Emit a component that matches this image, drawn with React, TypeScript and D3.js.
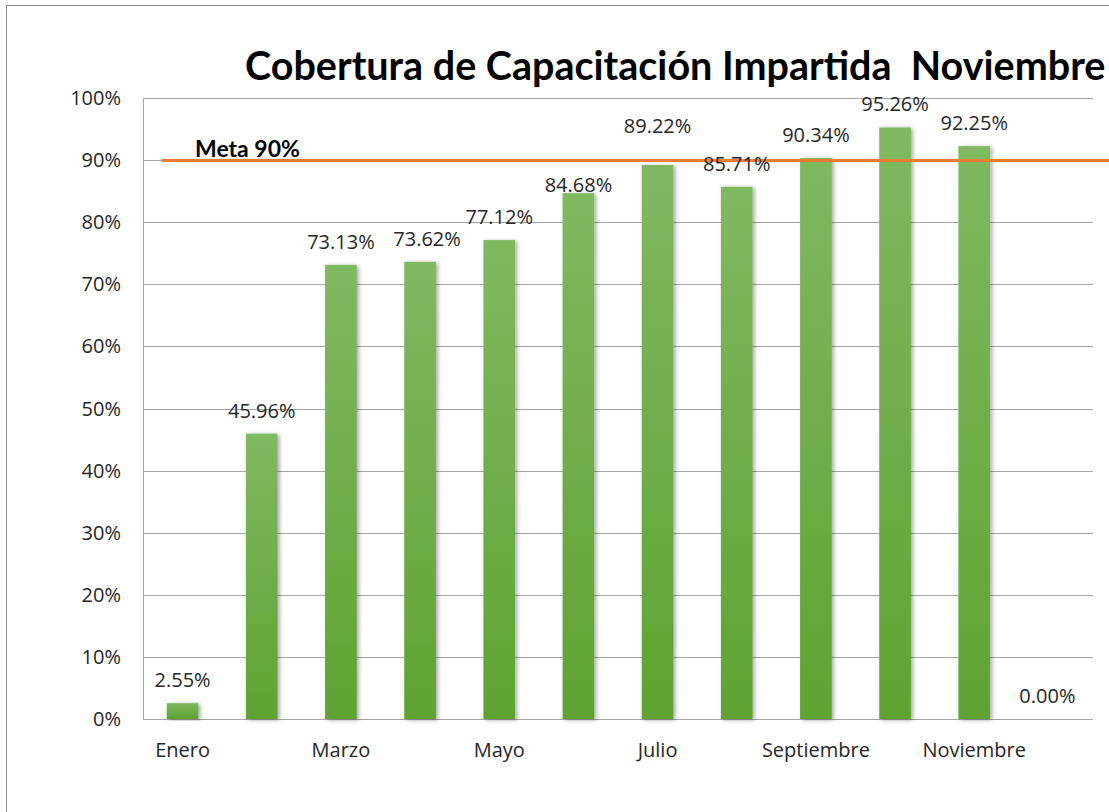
import React from "react";
import * as d3 from "d3";

// chart data
const months = [
  "Enero", "Febrero", "Marzo", "Abril", "Mayo", "Junio",
  "Julio", "Agosto", "Septiembre", "Octubre", "Noviembre", "Diciembre",
];
const coverage = [2.55, 45.96, 73.13, 73.62, 77.12, 84.68, 89.22, 85.71, 90.34, 95.26, 92.25, 0.0];
const meta = 90;
const yTicks = [0, 10, 20, 30, 40, 50, 60, 70, 80, 90, 100];
// manual label nudges (dx, dy) like the moved labels in the original
const labelDx = [0, 0, 0, 7, 0, 0, 0, 0, 0, 0, 0, -6];
const labelDy = [0, 0, 0, 0, 0, 15, -16, 0, 0, 0, 0, 0];

const W = 1109;
const H = 812;
const margin = { top: 98, right: 16, bottom: 93, left: 143 };
const FONT = "'Open Sans', Lato, sans-serif";
const TITLE_FONT = "Lato, 'Open Sans', sans-serif";

export default function App() {
  const innerW = W - margin.left - margin.right;
  const innerH = H - margin.top - margin.bottom;

  const x = d3.scaleBand().domain(months).range([0, innerW]).paddingInner(0.6).paddingOuter(0.3);
  const y = d3.scaleLinear().domain([0, 100]).range([innerH, 0]);

  return (
    <svg width={W} height={H} style={{ position: "fixed", left: 0, top: 0, background: "#fff" }}>
      <defs>
        <linearGradient id="barFill" x1="0" y1="0" x2="0" y2="1">
          <stop offset="0%" stopColor="#7fb961" />
          <stop offset="100%" stopColor="#5fa332" />
        </linearGradient>
        <filter id="shadow" x="-30%" y="-10%" width="160%" height="120%">
          <feDropShadow dx="2" dy="1" stdDeviation="2" floodColor="#000" floodOpacity="0.35" />
        </filter>
      </defs>

      {/* chart border */}
      <rect x={6.5} y={5.5} width={W + 20} height={H + 20} fill="none" stroke="#8c8c8c" strokeWidth={1} />

      <text x={245} y={80} fontFamily={TITLE_FONT} fontWeight="bold" fontSize={39.5} fill="#000">
        Cobertura de Capacitación Impartida{"\u00a0\u00a0"}Noviembre
      </text>

      <g transform={`translate(${margin.left},${margin.top})`}>
        {/* grid */}
        {yTicks.map((t) => (
          <g key={t}>
            <line x1={0} x2={innerW} y1={Math.round(y(t)) + 0.5} y2={Math.round(y(t)) + 0.5} stroke="#a6a6a6" strokeWidth={1} />
            <text x={-22} y={y(t) + 7} textAnchor="end" fontFamily={FONT} fontSize={20} fill="#262626">
              {t}%
            </text>
          </g>
        ))}
        <line x1={0.5} x2={0.5} y1={0} y2={innerH} stroke="#a6a6a6" strokeWidth={1} />

        {/* bars */}
        {months.map((m, i) => (
          <rect
            key={m}
            x={x(m)}
            y={y(coverage[i])}
            width={x.bandwidth()}
            height={innerH - y(coverage[i])}
            fill="url(#barFill)"
            filter={coverage[i] > 0 ? "url(#shadow)" : undefined}
          />
        ))}

        {/* meta line */}
        <line x1={19} x2={W} y1={y(meta) + 0.5} y2={y(meta) + 0.5} stroke="#ed7d31" strokeWidth={3} />
        <text x={52} y={y(meta) - 3} fontFamily={TITLE_FONT} fontWeight="bold" fontSize={23} fill="#000">
          Meta 90%
        </text>

        {/* value labels */}
        {months.map((m, i) => (
          <text
            key={m}
            x={(x(m) ?? 0) + x.bandwidth() / 2 + labelDx[i]}
            y={y(coverage[i]) - 16 + labelDy[i]}
            textAnchor="middle"
            fontFamily={FONT}
            fontSize={20}
            fill="#262626"
          >
            {coverage[i].toFixed(2)}%
          </text>
        ))}

        {/* x labels, every other month */}
        {months.map((m, i) =>
          i % 2 === 0 ? (
            <text
              key={m}
              x={(x(m) ?? 0) + x.bandwidth() / 2}
              y={innerH + 38}
              textAnchor="middle"
              fontFamily={FONT}
              fontSize={20}
              fill="#262626"
            >
              {m}
            </text>
          ) : null
        )}
      </g>
    </svg>
  );
}
